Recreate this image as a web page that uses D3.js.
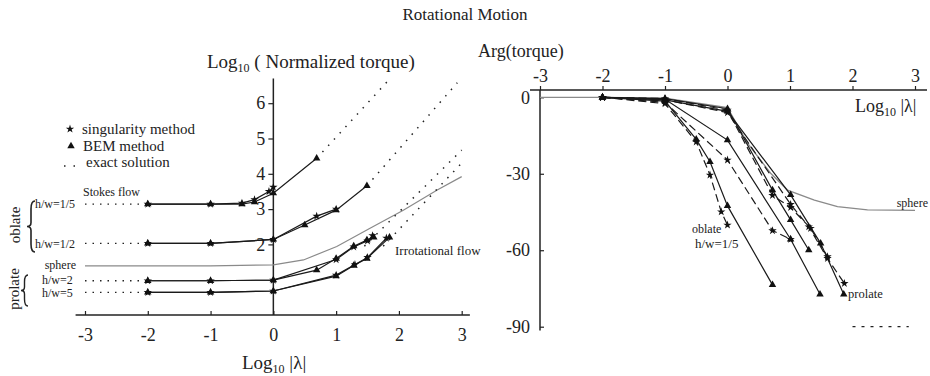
<!DOCTYPE html>
<html>
<head>
<meta charset="utf-8">
<script src="https://cdn.jsdelivr.net/npm/d3@7"></script>
<style>
  body { margin: 0; background: #fff; }
  text { font-family: "Liberation Serif", "DejaVu Serif", serif; fill: #222; }
</style>
</head>
<body>
<svg id="chart" width="930" height="376"></svg>
<script>
// ---- data (log10|lambda| vs values) ----
var xTicks = [-3, -2, -1, 0, 1, 2, 3];
var yTicksLeft = [2, 3, 4, 5, 6];
var yTicksRight = [0, -30, -60, -90];

// left panel: log10 normalized torque
var ob5BemX = [-2, -1, -0.5, -0.3, 0, 0.69];
var ob5BemY = [3.14, 3.14, 3.14, 3.2, 3.45, 4.44];
var ob5SingX = [-2, -1, -0.5, -0.3, -0.07, 0];
var ob5SingY = [3.14, 3.14, 3.17, 3.27, 3.5, 3.62];
var ob2BemX = [-2, -1, 0, 0.5, 1, 1.49];
var ob2BemY = [2.03, 2.03, 2.14, 2.55, 2.97, 3.66];
var ob2SingX = [-2, -1, 0, 0.69, 1];
var ob2SingY = [2.03, 2.03, 2.14, 2.8, 3.0];
var pr2BemX = [-2, -1, 0, 0.69, 1, 1.28, 1.49, 1.6];
var pr2BemY = [0.97, 0.97, 0.99, 1.27, 1.6, 1.95, 2.12, 2.2];
var pr2SingX = [-2, -1, 0, 1, 1.28, 1.5, 1.58];
var pr2SingY = [0.97, 0.97, 0.99, 1.57, 1.93, 2.1, 2.25];
var pr5BemX = [-2, -1, 0, 1, 1.28, 1.49, 1.85];
var pr5BemY = [0.64, 0.64, 0.68, 1.1, 1.4, 1.6, 2.2];
var pr5SingX = [-2, -1, 0, 1, 1.3, 1.5, 1.8];
var pr5SingY = [0.64, 0.64, 0.68, 1.13, 1.43, 1.63, 2.18];
var sphereLX = [-3, -2, -1, 0, 0.48, 1.01, 1.54, 2.07, 2.61, 3.0];
var sphereLY = [1.39, 1.39, 1.39, 1.42, 1.56, 1.94, 2.46, 2.97, 3.54, 3.92];
// exact solutions (dotted): Stokes limit and irrotational limit
var stokesX = [-3, -2];
var stokesY = [3.14, 2.03, 0.97, 0.64];
var irrotX = [[0.69, 1.86], [1.49, 2.93], [1.45, 3.0], [1.75, 3.05]];
var irrotY = [[4.44, 6.7], [3.66, 6.58], [1.95, 4.67], [1.95, 4.4]];

// right panel: arg(torque) in degrees
var rOb5BemX = [-2, -1, -0.5, -0.28, 0, 0.72];
var rOb5BemY = [0, -1.5, -16.5, -25.3, -42.6, -73.6];
var rOb5SingX = [-2, -1, -0.5, -0.28, -0.1, 0];
var rOb5SingY = [0, -2.5, -17.5, -30.5, -44.9, -50.1];
var rOb2BemX = [-2, -1, 0, 1.01, 1.48];
var rOb2BemY = [0, -0.8, -16.8, -55.7, -77.3];
var rOb2SingX = [-2, -1, 0, 0.72, 1.01];
var rOb2SingY = [0, -2, -24.6, -52.3, -55.7];
var rPr2BemX = [-2, -1, 0, 0.72, 1.01, 1.3];
var rPr2BemY = [0, -0.5, -4.5, -36.4, -48.1, -59.9];
var rPr2SingX = [-2, -1, 0, 0.72, 1.01, 1.33, 1.6];
var rPr2SingY = [0, -0.5, -5, -38.5, -43.2, -51.4, -62.5];
var rPr5BemX = [-2, -1, 0, 1.01, 1.49, 1.86];
var rPr5BemY = [0, -1, -5.5, -38.3, -57.3, -77.3];
var rPr5SingX = [-2, -1, 0, 1.01, 1.3, 1.6, 1.87];
var rPr5SingY = [0, -1, -6, -42, -50.8, -63.2, -73];
var sphereRX = [-3, -2, -1, 0, 0.32, 0.69, 0.96, 1.39, 1.76, 2.24, 3.0];
var sphereRY = [0, 0, -0.3, -4, -18, -29.8, -36.4, -40.3, -42.9, -44.2, -44.4];
var exactRX = [2.0, 2.9];
var exactRY = [-90, -90];

var svg = d3.select("#chart");

// scales
var xL = d3.scaleLinear().domain([-3, 3]).range([85, 461.7]);
var yL = d3.scaleLinear().domain([0, 6]).range([315, 103.2]);
var xR = d3.scaleLinear().domain([-3, 3]).range([540, 915]);
var yR = d3.scaleLinear().domain([0, -90]).range([97.3, 326.7]);

function pathOf(xs, ys, sx, sy) {
  return d3.line().x(function(d) { return sx(d[0]); }).y(function(d) { return sy(d[1]); })(d3.zip(xs, ys));
}

function drawLine(g, xs, ys, sx, sy, color, width, dash) {
  g.append("path")
    .attr("d", pathOf(xs, ys, sx, sy))
    .attr("fill", "none")
    .attr("stroke", color)
    .attr("stroke-width", width)
    .attr("stroke-dasharray", dash || null);
}

function drawMarks(g, xs, ys, sx, sy, type, size) {
  g.selectAll(null).data(d3.zip(xs, ys)).join("path")
    .attr("transform", function(d) { return "translate(" + sx(d[0]) + "," + sy(d[1]) + ")"; })
    .attr("d", d3.symbol(type, size))
    .attr("fill", "#111");
}

function brace(x, y0, y1, w) {
  var m = (y0 + y1) / 2, h = x + w / 2;
  return "M" + (x + w) + "," + y0 + " Q" + h + "," + y0 + " " + h + "," + (y0 + w) +
    " L" + h + "," + (m - w / 2) + " Q" + h + "," + m + " " + x + "," + m +
    " Q" + h + "," + m + " " + h + "," + (m + w / 2) +
    " L" + h + "," + (y1 - w) + " Q" + h + "," + y1 + " " + (x + w) + "," + y1;
}

function logLabel(x, y, size, anchor) {
  var t = svg.append("text").attr("x", x).attr("y", y)
    .style("font-size", size + "px").attr("text-anchor", anchor || "start");
  t.append("tspan").text("Log");
  t.append("tspan").attr("dy", 4).style("font-size", Math.round(size * 0.65) + "px").text("10");
  return t;
}

// ---- title ----
svg.append("text").attr("x", 465).attr("y", 20).attr("text-anchor", "middle")
  .style("font-size", "17px").text("Rotational Motion");

// ================= LEFT PANEL =================
var gl = svg.append("g");

// axes
var axL = gl.append("g").attr("transform", "translate(0,315)")
  .call(d3.axisBottom(xL).tickValues(xTicks).tickSize(-4).tickPadding(13).tickFormat(function(d) { return String(d); }));
axL.select(".domain").remove();
axL.selectAll("line").attr("stroke", "#222").attr("stroke-width", 1.2);
axL.selectAll("text").style("font-size", "18px").attr("font-family", null);
gl.append("line").attr("x1", xL(-3.15)).attr("x2", xL(3.13)).attr("y1", 315).attr("y2", 315)
  .attr("stroke", "#222").attr("stroke-width", 1.5);

var ayL = gl.append("g").attr("transform", "translate(" + xL(0) + ",0)")
  .call(d3.axisLeft(yL).tickValues(yTicksLeft).tickSize(5).tickPadding(3).tickFormat(function(d) { return String(d); }));
ayL.select(".domain").remove();
ayL.selectAll("line").attr("stroke", "#222").attr("stroke-width", 1.2);
ayL.selectAll("text").style("font-size", "18px").attr("font-family", null);
gl.append("line").attr("x1", xL(0)).attr("x2", xL(0)).attr("y1", yL(6.7)).attr("y2", 315)
  .attr("stroke", "#222").attr("stroke-width", 1.5);

// sphere (grey)
drawLine(gl, sphereLX, sphereLY, xL, yL, "#8a8a8a", 1.2);

// exact solutions, dotted
stokesY.forEach(function(v) {
  drawLine(gl, stokesX, [v, v], xL, yL, "#222", 1.4, "1.5,6");
});
irrotX.forEach(function(xs, i) {
  drawLine(gl, xs, irrotY[i], xL, yL, "#222", 1.5, "1.5,7");
});

var leftSeries = [
  [ob5BemX, ob5BemY, d3.symbolTriangle], [ob5SingX, ob5SingY, d3.symbolStar],
  [ob2BemX, ob2BemY, d3.symbolTriangle], [ob2SingX, ob2SingY, d3.symbolStar],
  [pr2BemX, pr2BemY, d3.symbolTriangle], [pr2SingX, pr2SingY, d3.symbolStar],
  [pr5BemX, pr5BemY, d3.symbolTriangle], [pr5SingX, pr5SingY, d3.symbolStar]
];
leftSeries.forEach(function(s) {
  drawLine(gl, s[0], s[1], xL, yL, "#1a1a1a", 1.2);
});
leftSeries.forEach(function(s) {
  drawMarks(gl, s[0], s[1], xL, yL, s[2], s[2] === d3.symbolStar ? 22 : 24);
});

// labels
logLabel(207, 68, 19).append("tspan").attr("dy", -4).text(" ( Normalized torque)");
logLabel(242, 369, 19).append("tspan").attr("dy", -4).text(" |\u03bb|");

// legend
drawMarks(gl, [0], [0], function() { return 70; }, function() { return 129; }, d3.symbolStar, 22);
drawMarks(gl, [0], [0], function() { return 71; }, function() { return 146; }, d3.symbolTriangle, 24);
gl.append("line").attr("x1", 64).attr("x2", 77).attr("y1", 166).attr("y2", 166)
  .attr("stroke", "#222").attr("stroke-width", 1.5).attr("stroke-dasharray", "1.5,8");
[["singularity method", 82, 134], ["BEM method", 83, 151], ["exact solution", 86, 167]].forEach(function(l) {
  gl.append("text").attr("x", l[1]).attr("y", l[2]).style("font-size", "15px").text(l[0]);
});

gl.append("text").attr("x", 83).attr("y", 196).style("font-size", "12px").text("Stokes flow");
[["h/w=1/5", 35, 208], ["h/w=1/2", 35, 248], ["h/w=2", 42, 284], ["h/w=5", 42, 297]].forEach(function(l) {
  gl.append("text").attr("x", l[1]).attr("y", l[2]).style("font-size", "12px").text(l[0]);
});
gl.append("text").attr("x", 76).attr("y", 269).attr("text-anchor", "end").style("font-size", "12px").text("sphere");
gl.append("text").attr("x", 395).attr("y", 255).style("font-size", "13px").text("Irrotational flow");

gl.append("text").attr("transform", "translate(20,225) rotate(-90)").attr("text-anchor", "middle")
  .style("font-size", "15px").text("oblate");
gl.append("text").attr("transform", "translate(19,289) rotate(-90)").attr("text-anchor", "middle")
  .style("font-size", "15px").text("prolate");
gl.append("path").attr("d", brace(27, 201, 252, 8)).attr("fill", "none").attr("stroke", "#222").attr("stroke-width", 1.6);
gl.append("path").attr("d", brace(21, 275, 306, 7)).attr("fill", "none").attr("stroke", "#222").attr("stroke-width", 1.4);

// ================= RIGHT PANEL =================
var gr = svg.append("g");

var axR = gr.append("g").attr("transform", "translate(0,90)")
  .call(d3.axisTop(xR).tickValues(xTicks).tickSize(4).tickPadding(4).tickFormat(function(d) { return String(d); }));
axR.select(".domain").remove();
axR.selectAll("line").attr("stroke", "#222").attr("stroke-width", 1.2);
axR.selectAll("text").style("font-size", "18px").attr("font-family", null);
gr.append("line").attr("x1", 530).attr("x2", 927).attr("y1", 90).attr("y2", 90)
  .attr("stroke", "#222").attr("stroke-width", 1.5);

var ayR = gr.append("g").attr("transform", "translate(540,0)")
  .call(d3.axisLeft(yR).tickValues(yTicksRight).tickSize(-4).tickPadding(10).tickFormat(function(d) { return String(d); }));
ayR.select(".domain").remove();
ayR.selectAll("line").attr("stroke", "#222").attr("stroke-width", 1.2);
ayR.selectAll("text").style("font-size", "18px").attr("font-family", null);
gr.append("line").attr("x1", 540).attr("x2", 540).attr("y1", 90).attr("y2", yR(-91.5))
  .attr("stroke", "#222").attr("stroke-width", 1.5);

drawLine(gr, sphereRX, sphereRY, xR, yR, "#8a8a8a", 1.3);
drawLine(gr, exactRX, exactRY, xR, yR, "#222", 1.2, "3,6");

var rightSeries = [
  [rOb5BemX, rOb5BemY, d3.symbolTriangle], [rOb5SingX, rOb5SingY, d3.symbolStar],
  [rOb2BemX, rOb2BemY, d3.symbolTriangle], [rOb2SingX, rOb2SingY, d3.symbolStar],
  [rPr2BemX, rPr2BemY, d3.symbolTriangle], [rPr2SingX, rPr2SingY, d3.symbolStar],
  [rPr5BemX, rPr5BemY, d3.symbolTriangle], [rPr5SingX, rPr5SingY, d3.symbolStar]
];
rightSeries.forEach(function(s) {
  var star = s[2] === d3.symbolStar;
  drawLine(gr, s[0], s[1], xR, yR, "#1a1a1a", 1.2, star ? "8,4" : null);
});
rightSeries.forEach(function(s) {
  drawMarks(gr, s[0], s[1], xR, yR, s[2], s[2] === d3.symbolStar ? 22 : 24);
});

gr.append("text").attr("x", 478).attr("y", 57).style("font-size", "18px").text("Arg(torque)");
logLabel(855, 112, 18).append("tspan").attr("dy", -4).text(" |\u03bb|");
gr.append("text").attr("x", 692).attr("y", 233).style("font-size", "12px").text("oblate");
gr.append("text").attr("x", 695).attr("y", 248).style("font-size", "13px").text("h/w=1/5");
gr.append("text").attr("x", 928).attr("y", 207).attr("text-anchor", "end").style("font-size", "12px").text("sphere");
gr.append("text").attr("x", 848).attr("y", 298).style("font-size", "12.5px").text("prolate");
</script>
</body>
</html>
